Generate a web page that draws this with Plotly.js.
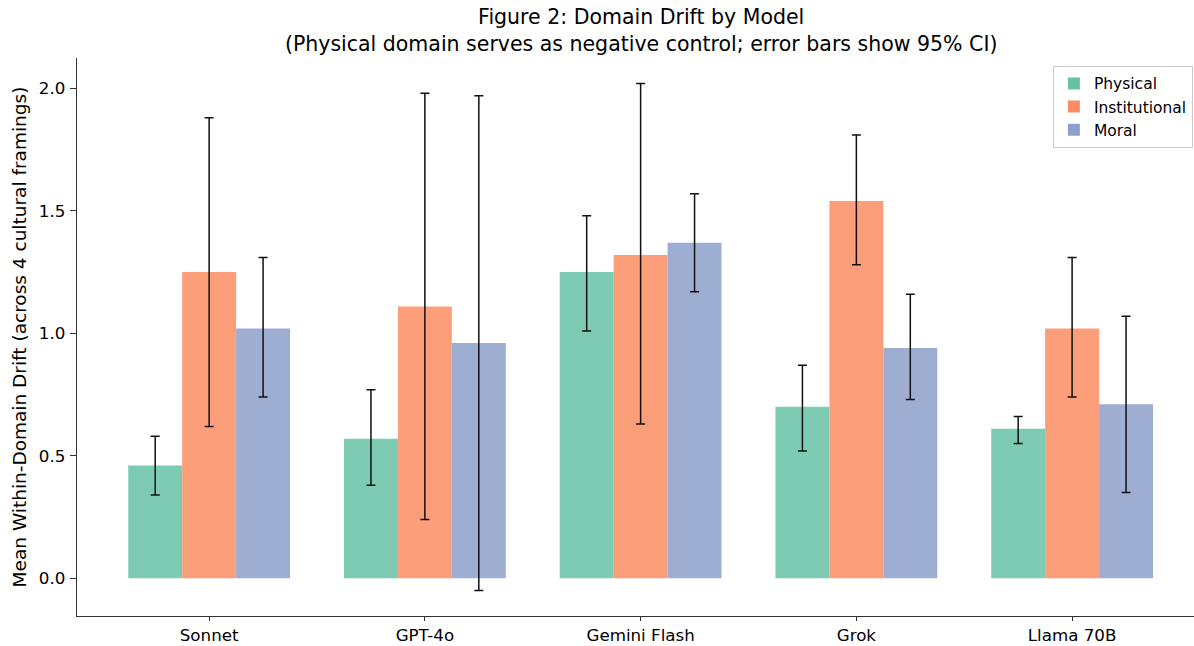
<!DOCTYPE html>
<html>
<head>
<meta charset="utf-8">
<script src="https://cdn.plot.ly/plotly-3.0.1.min.js"></script>
<style>html,body{margin:0;padding:0;background:#fff;}#chart{width:1194px;height:646px;}</style>
</head>
<body>
<div id="chart"></div>
<script>
const models = ["Sonnet", "GPT-4o", "Gemini Flash", "Grok", "Llama 70B"];

const physicalMean = [0.46, 0.57, 1.25, 0.70, 0.61];
const physicalLow  = [0.34, 0.38, 1.01, 0.52, 0.55];
const physicalHigh = [0.58, 0.77, 1.48, 0.87, 0.66];

const institutionalMean = [1.25, 1.11, 1.32, 1.54, 1.02];
const institutionalLow  = [0.62, 0.24, 0.63, 1.28, 0.74];
const institutionalHigh = [1.88, 1.98, 2.02, 1.81, 1.31];

const moralMean = [1.02, 0.96, 1.37, 0.94, 0.71];
const moralLow  = [0.74, -0.05, 1.17, 0.73, 0.35];
const moralHigh = [1.31, 1.97, 1.57, 1.16, 1.07];

const yTickVals = [0.0, 0.5, 1.0, 1.5, 2.0];

function series(name, mean, lo, hi, color) {
  return {
    type: "bar",
    name: name,
    x: models,
    y: mean,
    marker: {color: color, opacity: 0.85, line: {width: 0}},
    error_y: {
      type: "data",
      symmetric: false,
      array: hi.map((h, i) => h - mean[i]),
      arrayminus: lo.map((l, i) => mean[i] - l),
      color: "#111",
      thickness: 1.5,
      width: 4.5
    }
  };
}

const data = [
  series("Physical", physicalMean, physicalLow, physicalHigh, "#66c2a5"),
  series("Institutional", institutionalMean, institutionalLow, institutionalHigh, "#fc8d62"),
  series("Moral", moralMean, moralLow, moralHigh, "#8da0cb")
];

const font = "DejaVu Sans, sans-serif";

const layout = {
  width: 1194,
  height: 646,
  margin: {l: 77, r: 0, t: 58, b: 30, pad: 0},
  paper_bgcolor: "#fff",
  plot_bgcolor: "#fff",
  font: {family: font, color: "#000", size: 16},
  barmode: "group",
  bargap: 0.25,
  bargroupgap: 0,
  title: {
    text: "Figure 2: Domain Drift by Model<br>(Physical domain serves as negative control; error bars show 95% CI)",
    font: {family: font, size: 20.5, color: "#000"},
    xref: "container",
    x: 0.537,
    xanchor: "center",
    yref: "container",
    y: 0.963,
    yanchor: "top"
  },
  xaxis: {
    type: "category",
    range: [-0.6125, 4.565],
    showline: true,
    linecolor: "#333",
    linewidth: 1.3,
    ticks: "outside",
    ticklen: 4,
    tickwidth: 1.1,
    tickcolor: "#333",
    showgrid: false,
    zeroline: false,
    tickfont: {family: font, size: 16.7, color: "#000"},
    automargin: false
  },
  yaxis: {
    range: [-0.154, 2.124],
    showline: true,
    linecolor: "#333",
    linewidth: 1.3,
    ticks: "outside",
    ticklen: 6,
    tickwidth: 1.1,
    tickcolor: "#333",
    ticklabelstandoff: 1,
    showgrid: false,
    zeroline: false,
    tickvals: yTickVals,
    tickformat: ".1f",
    tickfont: {family: font, size: 16.7, color: "#000"},
    title: {
      text: "Mean Within-Domain Drift (across 4 cultural framings)",
      font: {family: font, size: 18.5, color: "#000"},
      standoff: 7
    },
    automargin: false
  },
  legend: {
    x: 0.999,
    xanchor: "right",
    y: 0.986,
    yanchor: "top",
    bgcolor: "rgba(255,255,255,0.8)",
    bordercolor: "#ccc",
    borderwidth: 1,
    font: {family: font, size: 15.5, color: "#000"},
    tracegroupgap: 0
  },
  showlegend: true
};

Plotly.newPlot("chart", data, layout, {displayModeBar: false, staticPlot: true});
</script>
</body>
</html>
